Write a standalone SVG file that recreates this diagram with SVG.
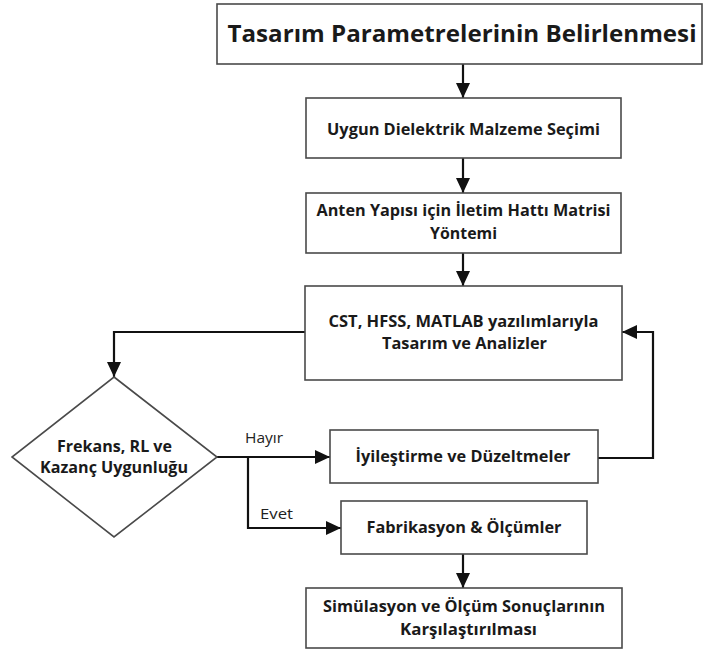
<svg xmlns="http://www.w3.org/2000/svg" width="703" height="650" viewBox="0 0 703 650">
  <style>
    .box { fill: #ffffff; stroke: #4a4a4a; stroke-width: 1.6; }
    .lbl { font-family: "Open Sans", "Noto Sans", "Liberation Sans", sans-serif; font-weight: bold; fill: #1a1a1a; text-anchor: middle; }
    .title { font-size: 23px; }
    .body { font-size: 15.5px; }
    .edge { fill: none; stroke: #111111; stroke-width: 2.2; }
    .note { font-family: "Open Sans", "Noto Sans", "Liberation Sans", sans-serif; font-size: 14.5px; fill: #222222; }
  </style>
  <defs>
    <marker id="arrow" markerUnits="userSpaceOnUse" markerWidth="16" markerHeight="14" refX="15" refY="7" orient="auto">
      <path d="M0,0 L15,7 L0,14 Z" fill="#111111"/>
    </marker>
  </defs>
  <rect width="703" height="650" fill="#ffffff"/>

  <g id="connectors">
    <path class="edge" d="M463,64 V98" marker-end="url(#arrow)"/>
    <path class="edge" d="M463,158 V193" marker-end="url(#arrow)"/>
    <path class="edge" d="M463,253 V286" marker-end="url(#arrow)"/>
    <path class="edge" d="M305,332 H114 V377" marker-end="url(#arrow)"/>
    <path class="edge" d="M217,457 H330" marker-end="url(#arrow)"/>
    <path class="edge" d="M248,457 V528 H341" marker-end="url(#arrow)"/>
    <path class="edge" d="M598,458 H653 V332 H622" marker-end="url(#arrow)"/>
    <path class="edge" d="M463,554 V588" marker-end="url(#arrow)"/>
    <text class="note" x="245" y="443" textLength="38" lengthAdjust="spacingAndGlyphs">Hayır</text>
    <text class="note" x="260" y="519" textLength="33" lengthAdjust="spacingAndGlyphs">Evet</text>
  </g>

  <g id="n-parametreler">
    <rect class="box" x="217" y="4" width="485" height="60"/>
    <text class="lbl title" x="462" y="42" textLength="469" lengthAdjust="spacingAndGlyphs">Tasarım Parametrelerinin Belirlenmesi</text>
  </g>

  <g id="n-dielektrik">
    <rect class="box" x="306" y="98" width="315" height="60"/>
    <text class="lbl body" x="463.5" y="135" textLength="273" lengthAdjust="spacingAndGlyphs">Uygun Dielektrik Malzeme Seçimi</text>
  </g>

  <g id="n-iletim">
    <rect class="box" x="306" y="193" width="315" height="60"/>
    <text class="lbl body" x="463.5" y="216" textLength="294" lengthAdjust="spacingAndGlyphs">Anten Yapısı için İletim Hattı Matrisi</text>
    <text class="lbl body" x="463.5" y="239" textLength="67" lengthAdjust="spacingAndGlyphs">Yöntemi</text>
  </g>

  <g id="n-analiz">
    <rect class="box" x="305" y="286" width="317" height="94"/>
    <text class="lbl body" x="463.5" y="327" textLength="270" lengthAdjust="spacingAndGlyphs">CST, HFSS, MATLAB yazılımlarıyla</text>
    <text class="lbl body" x="464.5" y="349" textLength="165" lengthAdjust="spacingAndGlyphs">Tasarım ve Analizler</text>
  </g>

  <g id="n-karar">
    <polygon class="box" points="114,377 217,457 114,537 12,457"/>
    <text class="lbl body" x="114.5" y="452" textLength="115" lengthAdjust="spacingAndGlyphs">Frekans, RL ve</text>
    <text class="lbl body" x="114" y="473" textLength="148" lengthAdjust="spacingAndGlyphs">Kazanç Uygunluğu</text>
  </g>

  <g id="n-iyilestirme">
    <rect class="box" x="330" y="430" width="268" height="53"/>
    <text class="lbl body" x="463" y="462" textLength="215" lengthAdjust="spacingAndGlyphs">İyileştirme ve Düzeltmeler</text>
  </g>

  <g id="n-fabrikasyon">
    <rect class="box" x="341" y="501" width="246" height="53"/>
    <text class="lbl body" x="464" y="533" textLength="195" lengthAdjust="spacingAndGlyphs">Fabrikasyon &amp; Ölçümler</text>
  </g>

  <g id="n-karsilastirma">
    <rect class="box" x="306" y="588" width="316" height="60"/>
    <text class="lbl body" x="464" y="612" textLength="282" lengthAdjust="spacingAndGlyphs">Simülasyon ve Ölçüm Sonuçlarının</text>
    <text class="lbl body" x="468.5" y="635" textLength="137" lengthAdjust="spacingAndGlyphs">Karşılaştırılması</text>
  </g>
</svg>
